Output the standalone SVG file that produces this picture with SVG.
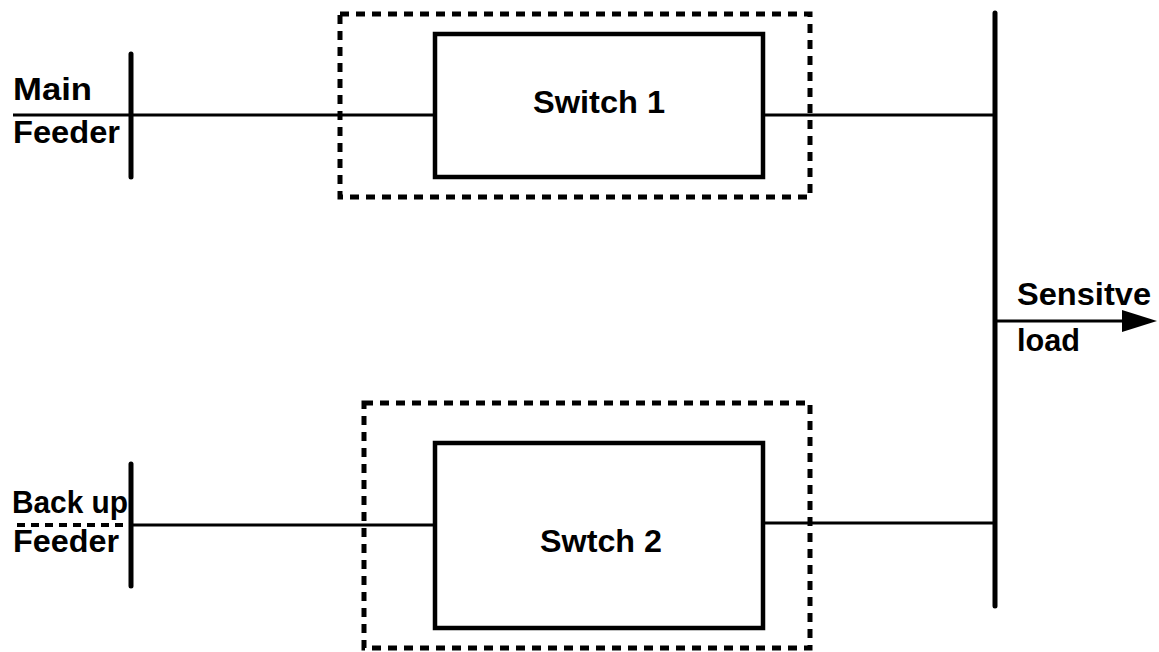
<svg xmlns="http://www.w3.org/2000/svg" width="1159" height="652" viewBox="0 0 1159 652">
<style>
.lbl{font-family:"Liberation Sans",Arial,sans-serif;font-weight:bold;font-size:31px;fill:#000}
.wire{stroke:#000;stroke-width:3;fill:none}
.bus{stroke:#000;stroke-width:5;fill:none;stroke-linecap:round}
.box{stroke:#000;stroke-width:4.5;fill:#fff}
.dash{stroke:#000;stroke-width:5;fill:none;stroke-dasharray:9 7}
</style>
<rect width="1159" height="652" fill="#fff"/>
<g id="connectors">
<line class="wire" x1="13" y1="115" x2="435" y2="115"/>
<line class="wire" x1="763" y1="115" x2="995" y2="115"/>
<line x1="17" y1="525" x2="128" y2="525" stroke="#000" stroke-width="4" stroke-dasharray="8 6"/>
<line class="wire" x1="131" y1="525" x2="435" y2="525"/>
<line class="wire" x1="763" y1="523" x2="995" y2="523"/>
<line class="wire" x1="995" y1="321" x2="1125" y2="321" stroke-width="4"/>
<polygon points="1122,310 1157,321 1122,332" fill="#000"/>
</g>
<g id="main-feeder">
<line class="bus" x1="131" y1="54" x2="131" y2="177"/>
<text class="lbl" x="13" y="100" textLength="79" lengthAdjust="spacingAndGlyphs">Main</text>
<text class="lbl" x="13" y="143" textLength="107" lengthAdjust="spacingAndGlyphs">Feeder</text>
</g>
<g id="backup-feeder">
<line class="bus" x1="131" y1="464" x2="131" y2="586"/>
<text class="lbl" x="12" y="513" textLength="116" lengthAdjust="spacingAndGlyphs">Back up</text>
<text class="lbl" x="13" y="552" textLength="106" lengthAdjust="spacingAndGlyphs">Feeder</text>
</g>
<g id="switch1">
<rect class="dash" x="340" y="14" width="470" height="183"/>
<rect class="box" x="435" y="34" width="328" height="143"/>
<text class="lbl" x="533" y="113" textLength="132" lengthAdjust="spacingAndGlyphs">Switch 1</text>
</g>
<g id="switch2">
<rect class="dash" x="364" y="403" width="446" height="245"/>
<rect class="box" x="435" y="443" width="328" height="185"/>
<text class="lbl" x="540" y="552" textLength="122" lengthAdjust="spacingAndGlyphs">Swtch 2</text>
</g>
<g id="load-bus">
<line class="bus" x1="995" y1="13" x2="995" y2="606"/>
<text class="lbl" x="1017" y="305" textLength="134" lengthAdjust="spacingAndGlyphs">Sensitve</text>
<text class="lbl" x="1017" y="351" textLength="63" lengthAdjust="spacingAndGlyphs">load</text>
</g>
</svg>
